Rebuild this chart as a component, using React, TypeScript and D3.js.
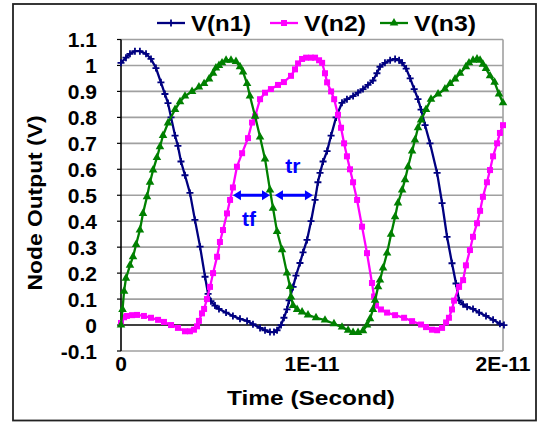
import React from "react";
import * as d3 from "d3";

// time in picoseconds
const timeN1 = [0,0.26,0.47,0.73,0.99,1.31,1.57,1.83,2.09,2.30,2.46,2.62,2.83,2.98,3.14,3.35,3.61,3.87,4.14,4.40,4.56,4.71,4.92,5.13,5.50,5.86,6.23,6.60,6.91,7.28,7.54,7.80,8.01,8.17,8.38,8.53,8.69,8.80,9.01,9.16,9.37,9.53,9.74,9.95,10.16,10.31,10.42,10.58,10.79,11.00,11.26,11.57,11.83,12.15,12.41,12.67,12.93,13.19,13.40,13.56,13.82,14.09,14.35,14.56,14.72,14.93,15.14,15.35,15.55,15.71,15.92,16.18,16.55,16.81,17.07,17.33,17.54,17.70,17.91,18.12,18.43,18.75,19.11,19.48,19.84,20.05];
const valN1 = [1.01,1.03,1.045,1.055,1.055,1.045,1.025,0.99,0.935,0.89,0.855,0.80,0.73,0.69,0.63,0.577,0.509,0.405,0.302,0.186,0.12,0.092,0.075,0.062,0.048,0.035,0.024,0.016,0.003,-0.011,-0.02,-0.027,-0.027,-0.02,0.0,0.028,0.06,0.095,0.147,0.19,0.239,0.28,0.328,0.40,0.482,0.55,0.586,0.63,0.67,0.73,0.80,0.856,0.87,0.882,0.895,0.909,0.925,0.942,0.97,0.995,1.01,1.02,1.025,1.02,1.01,0.988,0.95,0.909,0.87,0.83,0.77,0.70,0.586,0.47,0.34,0.238,0.16,0.095,0.08,0.07,0.062,0.048,0.035,0.02,0.005,0.0];

const timeN2 = [0,0.16,0.31,0.58,0.84,1.20,1.57,1.94,2.25,2.62,2.98,3.35,3.61,3.82,3.98,4.08,4.24,4.35,4.50,4.66,4.82,5.03,5.18,5.34,5.55,5.71,5.86,6.07,6.34,6.65,6.86,7.02,7.28,7.54,7.85,8.22,8.53,8.90,9.11,9.27,9.48,9.69,9.95,10.16,10.37,10.53,10.68,10.79,11.00,11.16,11.36,11.52,11.68,11.83,11.99,12.15,12.36,12.62,12.88,13.14,13.25,13.35,13.61,13.93,14.35,14.82,15.24,15.71,15.97,16.28,16.55,16.81,17.02,17.17,17.33,17.44,17.70,17.91,18.06,18.27,18.43,18.64,18.80,18.95,19.16,19.32,19.48,19.69,19.84,20.00];
const valN2 = [0.008,0.03,0.035,0.038,0.039,0.035,0.028,0.02,0.012,0.0,-0.011,-0.024,-0.024,-0.018,-0.005,0.016,0.045,0.062,0.1,0.147,0.2,0.263,0.32,0.366,0.43,0.482,0.53,0.61,0.662,0.72,0.78,0.804,0.87,0.895,0.909,0.925,0.936,0.96,0.985,1.008,1.025,1.03,1.03,1.03,1.02,1.01,0.97,0.935,0.90,0.87,0.81,0.76,0.70,0.65,0.60,0.55,0.482,0.379,0.277,0.162,0.11,0.075,0.06,0.048,0.038,0.028,0.015,0.002,-0.008,-0.018,-0.02,-0.011,0.01,0.028,0.06,0.094,0.147,0.173,0.23,0.289,0.34,0.392,0.44,0.494,0.55,0.597,0.65,0.70,0.74,0.77];

const timeN3 = [0,0.08,0.16,0.26,0.47,0.63,0.79,0.99,1.15,1.36,1.52,1.68,1.88,2.04,2.20,2.46,2.83,3.09,3.35,3.72,4.08,4.35,4.61,4.82,4.97,5.13,5.29,5.50,5.76,6.02,6.23,6.39,6.60,6.75,7.02,7.28,7.54,7.80,7.96,8.17,8.43,8.69,8.85,8.90,9.01,9.22,9.48,9.79,10.21,10.68,11.15,11.57,11.89,12.15,12.41,12.67,12.88,13.04,13.19,13.30,13.46,13.56,13.72,13.93,14.14,14.35,14.50,14.72,14.87,15.03,15.24,15.39,15.55,15.71,15.97,16.23,16.60,16.96,17.23,17.49,17.75,18.06,18.22,18.43,18.64,18.80,18.95,19.11,19.32,19.56,19.79,20.00];
const valN3 = [0.0,0.06,0.13,0.18,0.23,0.263,0.31,0.366,0.43,0.494,0.55,0.597,0.645,0.687,0.73,0.778,0.83,0.86,0.882,0.90,0.917,0.93,0.948,0.97,0.99,1.0,1.01,1.02,1.02,1.015,0.995,0.975,0.93,0.882,0.804,0.724,0.64,0.52,0.45,0.36,0.29,0.2,0.148,0.108,0.075,0.06,0.05,0.039,0.028,0.019,0.005,-0.008,-0.02,-0.029,-0.029,-0.022,0.0,0.024,0.06,0.095,0.147,0.173,0.22,0.277,0.35,0.417,0.47,0.52,0.56,0.61,0.67,0.713,0.76,0.79,0.83,0.87,0.89,0.909,0.93,0.948,0.97,0.995,1.01,1.02,1.025,1.02,1.005,0.988,0.96,0.935,0.89,0.856];

const seriesNames = ["V(n1)", "V(n2)", "V(n3)"];
const yTicks = [-0.1,0,0.1,0.2,0.3,0.4,0.5,0.6,0.7,0.8,0.9,1,1.1];
const xTicks = [0, 1e-11, 2e-11];
const xTickLabels = ["0", "1E-11", "2E-11"];

// annotations (time in ps, voltage)
const tfArrow = [5.86, 7.80, 0.5];
const trArrow = [8.06, 10.05, 0.5];
const tfLabel = [6.70, 0.38];
const trLabel = [9.0, 0.586];

const W = 539, H = 422;
const PL = 121, PR = 503, PT = 39.5, PB = 351;
const FONT = "'Liberation Sans', Arial, sans-serif";
const colors = ["#000080", "#ff00ff", "#008000"];

export default function App() {
  const x = d3.scaleLinear().domain([0, 2e-11]).range([PL, PR]);
  const y = d3.scaleLinear().domain([-0.1, 1.1]).range([PB, PT]);
  const mk = (ts: number[], vs: number[]) => ts.map((t, i) => [t * 1e-12, vs[i]] as [number, number]);
  const data = [mk(timeN1, valN1), mk(timeN2, valN2), mk(timeN3, valN3)];
  const line = d3.line<[number, number]>().x(d => x(d[0])).y(d => y(d[1]));
  const tri = d3.symbol().type(d3.symbolTriangle).size(32)()!;

  const marker = (k: number, cx: number, cy: number, key: any) => {
    if (k === 0)
      return <path key={key} d={`M${cx - 3.5},${cy}H${cx + 3.5}M${cx},${cy - 3.5}V${cy + 3.5}`} stroke={colors[0]} strokeWidth={1.8} fill="none" />;
    if (k === 1)
      return <rect key={key} x={cx - 3} y={cy - 3} width={6} height={6} fill={colors[1]} />;
    return <path key={key} d={tri} transform={`translate(${cx},${cy})`} fill={colors[2]} />;
  };

  const arrow = (a: number[], key: string) => {
    const x1 = x(a[0] * 1e-12), x2 = x(a[1] * 1e-12), yy = y(a[2]);
    const L = 8, Hh = 5;
    return (
      <g key={key} fill="#0000ff" stroke="none">
        <line x1={x1 + L - 1} x2={x2 - L + 1} y1={yy} y2={yy} stroke="#0000ff" strokeWidth={3} />
        <path d={`M${x1},${yy}L${x1 + L},${yy - Hh}L${x1 + L},${yy + Hh}Z`} />
        <path d={`M${x2},${yy}L${x2 - L},${yy - Hh}L${x2 - L},${yy + Hh}Z`} />
      </g>
    );
  };

  const legendX = [157, 270, 380];
  const legendTextW = [60, 62, 62];

  return (
    <svg width={W} height={H} style={{ position: "absolute", left: 0, top: 0, background: "#fff" }} fontFamily={FONT} fontWeight="bold">
      <rect x={13} y={4} width={523} height={416.5} fill="#fff" stroke="#222" strokeWidth={1.8} />
      {/* gridlines */}
      {yTicks.map((t, i) => (
        <line key={i} x1={PL} x2={PR} y1={y(t)} y2={y(t)} stroke={t === 0 ? "#000" : "#a0a0a0"} strokeWidth={1.6} />
      ))}
      <line x1={PR} x2={PR} y1={PT} y2={PB} stroke="#a0a0a0" strokeWidth={1.6} />
      <line x1={PL} x2={PL} y1={PT} y2={PB} stroke="#000" strokeWidth={1.6} />
      {yTicks.map((t, i) => (
        <line key={"yt" + i} x1={PL - 4} x2={PL} y1={y(t)} y2={y(t)} stroke="#000" strokeWidth={1.2} />
      ))}
      {/* y tick labels */}
      {yTicks.map((t, i) => (
        <text key={"yl" + i} x={97} y={y(t)} dy="0.36em" textAnchor="end" fontSize={21}>{String(Math.round(t * 10) / 10)}</text>
      ))}
      {xTicks.map((t, i) => (
        <text key={"xl" + i} x={x(t)} y={371} textAnchor="middle" fontSize={21}>{xTickLabels[i]}</text>
      ))}
      {/* series */}
      {data.map((d, k) => (
        <g key={k}>
          <path d={line(d)!} fill="none" stroke={colors[k]} strokeWidth={2.3} />
          {d.map((p, i) => marker(k, x(p[0]), y(p[1]), i))}
        </g>
      ))}
      {/* annotations */}
      {arrow(tfArrow, "tf")}
      {arrow(trArrow, "tr")}
      <text x={x(tfLabel[0] * 1e-12)} y={y(tfLabel[1])} textAnchor="middle" fontSize={21} fill="#0000ff">tf</text>
      <text x={x(trLabel[0] * 1e-12)} y={y(trLabel[1])} textAnchor="middle" fontSize={21} fill="#0000ff">tr</text>
      {/* legend */}
      {seriesNames.map((n, k) => (
        <g key={"lg" + k}>
          <line x1={legendX[k]} x2={legendX[k] + 28} y1={23} y2={23} stroke={colors[k]} strokeWidth={2.3} />
          {marker(k, legendX[k] + 14, 23, "m")}
          <text x={legendX[k] + 34} y={31} fontSize={22} textLength={legendTextW[k]} lengthAdjust="spacingAndGlyphs">{n}</text>
        </g>
      ))}
      {/* axis titles */}
      <text x={311} y={405} textAnchor="middle" fontSize={21} textLength={168} lengthAdjust="spacingAndGlyphs">Time (Second)</text>
      <text transform={`translate(42,203) rotate(-90)`} textAnchor="middle" fontSize={21} textLength={175} lengthAdjust="spacingAndGlyphs">Node Output (V)</text>
    </svg>
  );
}
